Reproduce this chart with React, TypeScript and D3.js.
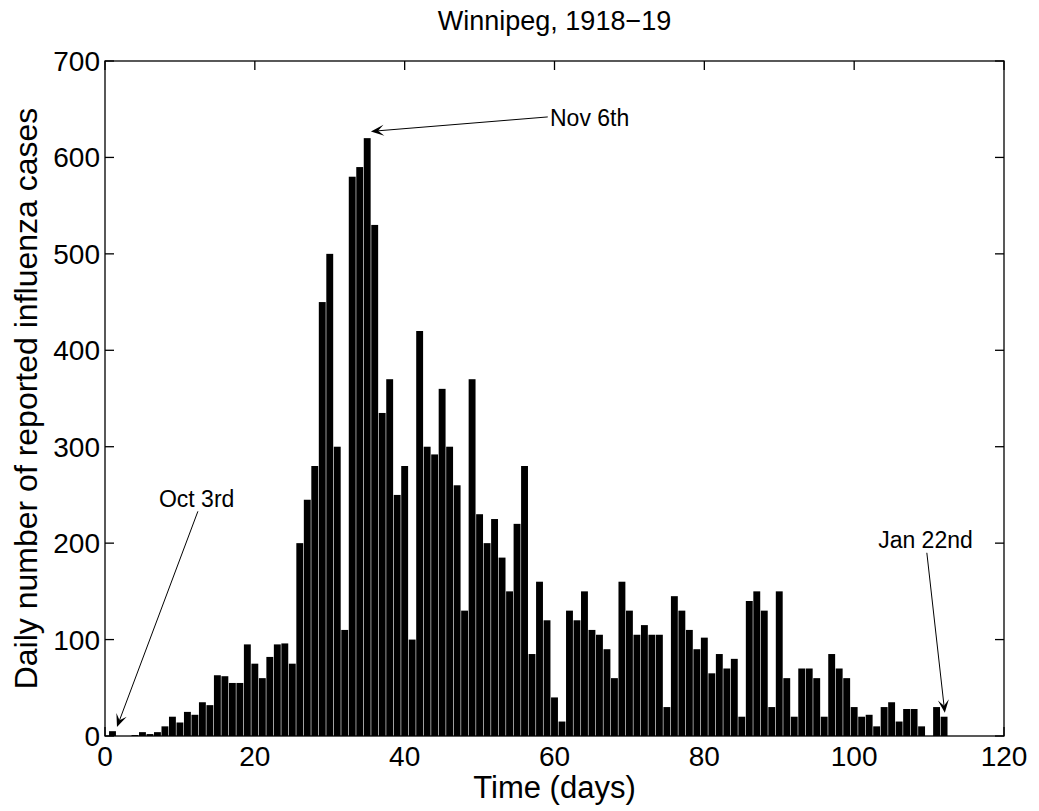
import React, { useEffect } from "react";
import * as d3 from "d3";

// Daily reported influenza cases, Winnipeg 1918-19 (day 1 .. day 112)
const cases: number[] = [
  5, 0, 0, 1, 4, 2, 4, 10, 20, 14,
  25, 22, 35, 32, 63, 62, 55, 55, 95, 75,
  60, 82, 95, 96, 75, 200, 245, 280, 450, 500,
  300, 110, 580, 590, 620, 530, 335, 370, 250, 280,
  100, 420, 300, 292, 360, 300, 260, 130, 370, 230,
  200, 225, 185, 150, 220, 280, 85, 160, 120, 40,
  15, 130, 120, 150, 110, 105, 90, 60, 160, 130,
  105, 115, 105, 105, 30, 145, 130, 110, 90, 102,
  65, 85, 70, 80, 20, 140, 150, 130, 30, 150,
  60, 20, 70, 70, 60, 20, 85, 70, 60, 30,
  20, 22, 10, 30, 35, 15, 28, 28, 10, 0,
  30, 20,
];
const days: number[] = cases.map((_, i) => i + 1);

const xTicks: number[] = [0, 20, 40, 60, 80, 100, 120];
const yTicks: number[] = [0, 100, 200, 300, 400, 500, 600, 700];

const titleText = "Winnipeg, 1918\u221219";
const xLabel = "Time (days)";
const yLabel = "Daily number of reported influenza cases";

// annotations in data units: text anchor, arrow tail, arrow tip
const annLabels: string[] = ["Oct 3rd", "Nov 6th", "Jan 22nd"];
const annText: [number, number][] = [[7.2, 237.5], [59.4, 632.6], [103.2, 195]];
const annTail: [number, number][] = [[12.4, 233], [59.1, 642], [109.7, 190]];
const annTip: [number, number][] = [[1.6, 9.3], [35.5, 627], [112.1, 24]];

const W = 1039;
const H = 811;
const M = { left: 105, right: 1004, top: 61, bottom: 736 };
const FONT = "'Liberation Sans', Arial, Helvetica, sans-serif";

export default function App() {
  useEffect(() => {
    document.body.style.margin = "0";
  }, []);

  const x = d3.scaleLinear().domain([0, 120]).range([M.left, M.right]);
  const y = d3.scaleLinear().domain([0, 700]).range([M.bottom, M.top]);
  const tickLen = 9;

  const arrowHead = (tail: [number, number], tip: [number, number]) => {
    const tx = x(tip[0]), ty = y(tip[1]);
    const sx = x(tail[0]), sy = y(tail[1]);
    const ang = Math.atan2(ty - sy, tx - sx);
    const L = 13, Wd = 11;
    const pt = (a: number, b: number) => {
      const c = Math.cos(ang), s = Math.sin(ang);
      return [tx + a * c - b * s, ty + a * s + b * c];
    };
    const p1 = pt(-L, Wd / 2), p2 = pt(-0.55 * L, 0), p3 = pt(-L, -Wd / 2);
    const shaft = pt(-0.55 * L, 0);
    return (
      <g>
        <line x1={sx} y1={sy} x2={shaft[0]} y2={shaft[1]} stroke="#000" strokeWidth={1} />
        <path d={`M${tx},${ty}L${p1[0]},${p1[1]}L${p2[0]},${p2[1]}L${p3[0]},${p3[1]}Z`} fill="#000" />
      </g>
    );
  };

  return (
    <svg width={W} height={H} style={{ display: "block", background: "#fff" }} fontFamily={FONT}>
      <rect x={0} y={0} width={W} height={H} fill="#fff" />
      {/* bars */}
      <g>
        {days.map((d, i) => {
          const x0 = x(d - 0.5) + 0.3;
          const x1 = x(d + 0.5) - 0.3;
          const v = cases[i];
          if (v <= 0) return null;
          return (
            <rect key={d} x={x0} y={y(v)} width={x1 - x0} height={y(0) - y(v)} fill="#000" />
          );
        })}
      </g>
      {/* box */}
      <rect x={M.left} y={M.top} width={M.right - M.left} height={M.bottom - M.top} fill="none" stroke="#000" strokeWidth={1.3} />
      {/* x ticks */}
      {xTicks.map((t) => (
        <g key={"xt" + t}>
          <line x1={x(t)} x2={x(t)} y1={M.bottom} y2={M.bottom - tickLen} stroke="#000" strokeWidth={1.3} />
          <line x1={x(t)} x2={x(t)} y1={M.top} y2={M.top + tickLen} stroke="#000" strokeWidth={1.3} />
          <text x={x(t)} y={M.bottom + 30} fontSize={28} textAnchor="middle">{t}</text>
        </g>
      ))}
      {/* y ticks */}
      {yTicks.map((t) => (
        <g key={"yt" + t}>
          <line x1={M.left} x2={M.left + tickLen} y1={y(t)} y2={y(t)} stroke="#000" strokeWidth={1.3} />
          <line x1={M.right} x2={M.right - tickLen} y1={y(t)} y2={y(t)} stroke="#000" strokeWidth={1.3} />
          <text x={M.left - 5} y={y(t) + 10} fontSize={28} textAnchor="end">{t}</text>
        </g>
      ))}
      {/* labels */}
      <text x={(M.left + M.right) / 2} y={798} fontSize={31} textAnchor="middle">{xLabel}</text>
      <text transform={`translate(37,${(M.top + M.bottom) / 2}) rotate(-90)`} fontSize={32} textAnchor="middle">{yLabel}</text>
      <text x={(M.left + M.right) / 2} y={30} fontSize={27} textAnchor="middle">{titleText}</text>
      {/* annotations */}
      {annLabels.map((lab, i) => (
        <g key={lab}>
          {arrowHead(annTail[i], annTip[i])}
          <text x={x(annText[i][0])} y={y(annText[i][1])} fontSize={23}>{lab}</text>
        </g>
      ))}
    </svg>
  );
}
